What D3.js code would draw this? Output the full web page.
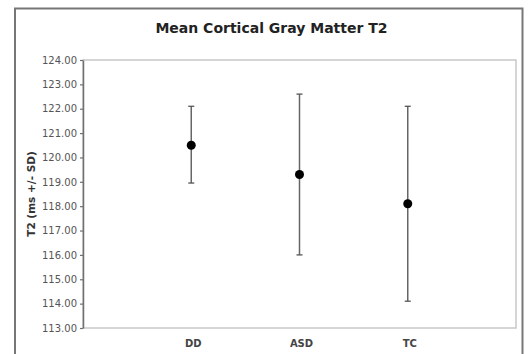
<!DOCTYPE html>
<html>
<head>
<meta charset="utf-8">
<script src="https://cdn.jsdelivr.net/npm/d3@7"></script>
<style>
  body { margin: 0; background: #fff; }
  text { font-family: "DejaVu Sans", Verdana, sans-serif; }
</style>
</head>
<body>
<div id="chart"></div>
<script>
// data
var groups = ["DD", "ASD", "TC"];
var means = [120.5, 119.3, 118.1];
var upper = [122.1, 122.6, 122.1];
var lower = [118.95, 116.0, 114.1];
var yTicks = [113, 114, 115, 116, 117, 118, 119, 120, 121, 122, 123, 124];

var svgWidth = 528;
var svgHeight = 354;

var plot = { left: 83, top: 60, right: 516, bottom: 328 };

var svg = d3.select("#chart")
  .append("svg")
  .attr("width", svgWidth)
  .attr("height", svgHeight);

// outer chart border
svg.append("rect")
  .attr("x", 15)
  .attr("y", 8.5)
  .attr("width", 507.5)
  .attr("height", 360)
  .attr("fill", "#fff")
  .attr("stroke", "#777")
  .attr("stroke-width", 2);

// title
svg.append("text")
  .attr("x", 271.5)
  .attr("y", 32.5)
  .attr("text-anchor", "middle")
  .style("font-size", "14px")
  .style("font-weight", "bold")
  .attr("fill", "#222")
  .text("Mean Cortical Gray Matter T2");

// scales: categories sit at 1, 2, 3 on a 0..4 range
var x = d3.scaleLinear()
  .domain([0, groups.length + 1])
  .range([plot.left, plot.right]);

var y = d3.scaleLinear()
  .domain([113, 124])
  .range([plot.bottom, plot.top]);

// plot area frame
svg.append("rect")
  .attr("x", plot.left)
  .attr("y", plot.top)
  .attr("width", plot.right - plot.left)
  .attr("height", plot.bottom - plot.top)
  .attr("fill", "none")
  .attr("stroke", "#c8c8c8")
  .attr("stroke-width", 1.5);

// y axis
var yAxis = svg.append("g")
  .attr("transform", `translate(${plot.left}, 0)`)
  .call(d3.axisLeft(y)
    .tickValues(yTicks)
    .tickFormat(d3.format(".2f"))
    .tickSizeInner(3)
    .tickSizeOuter(0)
    .tickPadding(3));

yAxis.select(".domain")
  .attr("stroke", "#707070")
  .attr("stroke-width", 1.5);
yAxis.selectAll(".tick line")
  .attr("stroke", "#707070")
  .attr("stroke-width", 1.2);
yAxis.selectAll(".tick text")
  .style("font-size", "10px")
  .style("font-family", "'DejaVu Sans', Verdana, sans-serif")
  .attr("fill", "#555");

// y axis title
svg.append("text")
  .attr("transform", `translate(32, ${(plot.top + plot.bottom) / 2}) rotate(-90)`)
  .attr("text-anchor", "middle")
  .attr("dominant-baseline", "middle")
  .style("font-size", "10.5px")
  .style("font-weight", "bold")
  .attr("fill", "#333")
  .text("T2 (ms +/- SD)");

// category labels
svg.selectAll(".catLabel")
  .data(groups)
  .enter()
  .append("text")
  .attr("class", "catLabel")
  .attr("x", (d, i) => x(i + 1) + 2)
  .attr("y", 343.5)
  .attr("text-anchor", "middle")
  .attr("dominant-baseline", "middle")
  .style("font-size", "10px")
  .style("font-weight", "bold")
  .attr("fill", "#444")
  .text(d => d);

// error bars
var bars = svg.selectAll(".errBar")
  .data(groups)
  .enter()
  .append("g")
  .attr("class", "errBar");

bars.append("line")
  .attr("x1", (d, i) => x(i + 1))
  .attr("x2", (d, i) => x(i + 1))
  .attr("y1", (d, i) => y(upper[i]))
  .attr("y2", (d, i) => y(lower[i]))
  .attr("stroke", "#666")
  .attr("stroke-width", 1.5);

bars.append("line")
  .attr("x1", (d, i) => x(i + 1) - 3)
  .attr("x2", (d, i) => x(i + 1) + 3)
  .attr("y1", (d, i) => y(upper[i]))
  .attr("y2", (d, i) => y(upper[i]))
  .attr("stroke", "#555")
  .attr("stroke-width", 1.3);

bars.append("line")
  .attr("x1", (d, i) => x(i + 1) - 3)
  .attr("x2", (d, i) => x(i + 1) + 3)
  .attr("y1", (d, i) => y(lower[i]))
  .attr("y2", (d, i) => y(lower[i]))
  .attr("stroke", "#555")
  .attr("stroke-width", 1.3);

// mean markers
bars.append("circle")
  .attr("cx", (d, i) => x(i + 1))
  .attr("cy", (d, i) => y(means[i]))
  .attr("r", 4.5)
  .attr("fill", "#000");
</script>
</body>
</html>
